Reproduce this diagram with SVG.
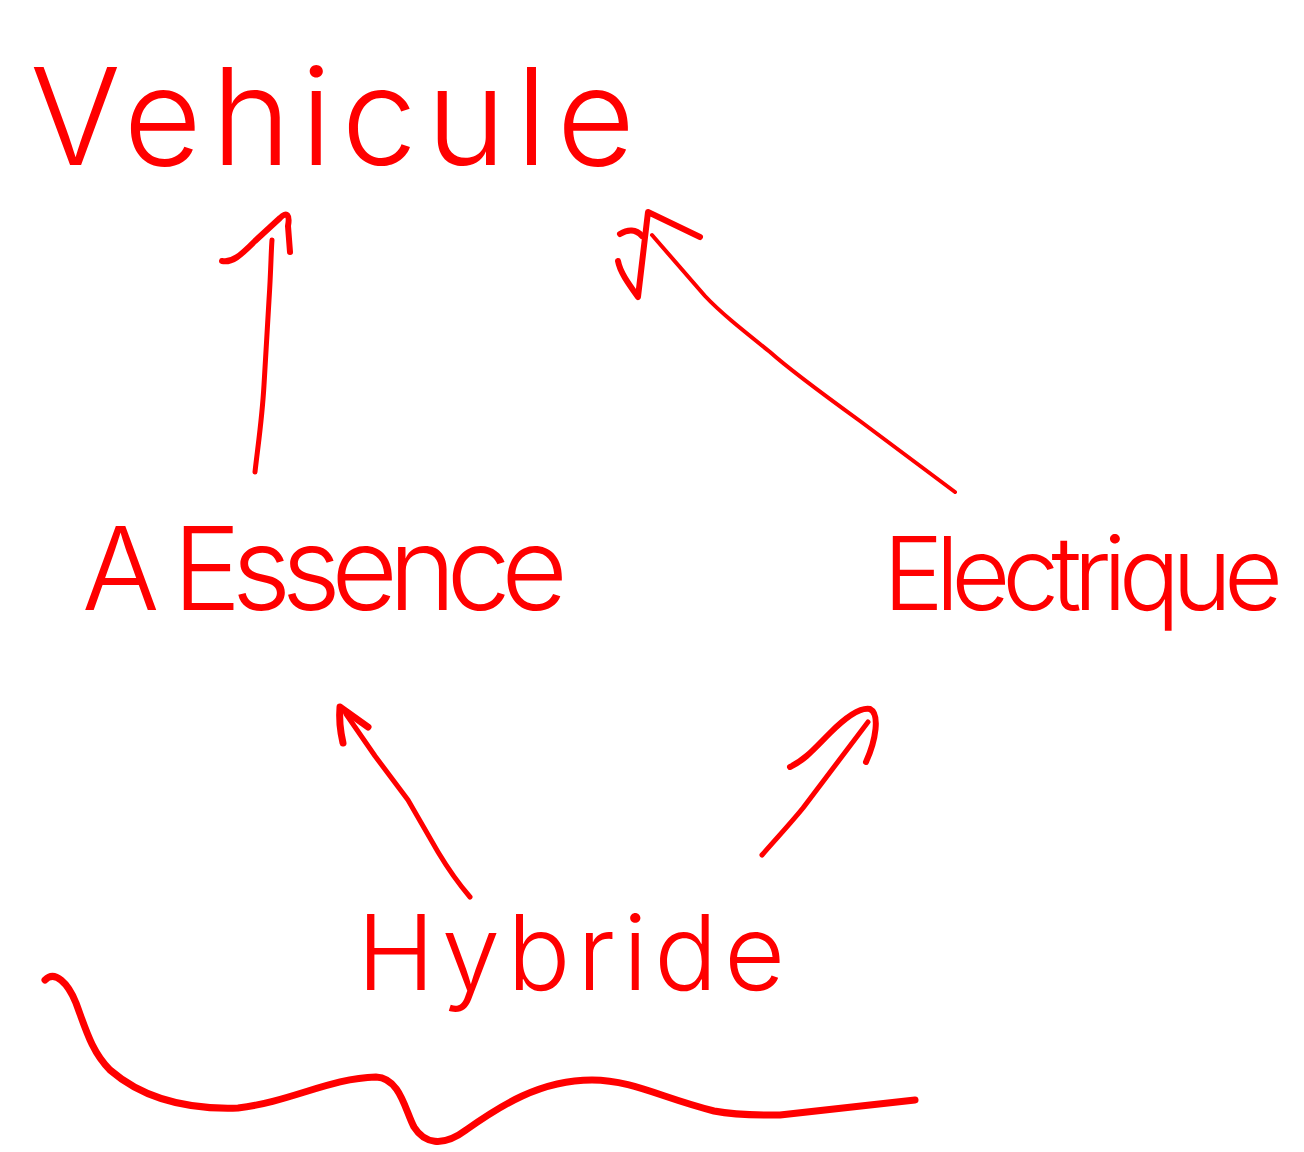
<svg xmlns="http://www.w3.org/2000/svg" width="1304" height="1152" viewBox="0 0 1304 1152">
  <style>
    .label { font-family: Inter, "Open Sans", "Liberation Sans", sans-serif; font-weight: 300; fill: #ff0000; }
    .ink { fill: none; stroke: #ff0000; stroke-linecap: round; stroke-linejoin: round; }
  </style>
  <rect width="1304" height="1152" fill="#ffffff"/>

  <g id="vehicule">
    <text class="label" x="30" y="165" font-size="135" textLength="605" lengthAdjust="spacing">Vehicule</text>
  </g>

  <g id="essence">
    <text class="label" x="82" y="610" font-size="115" textLength="486" lengthAdjust="spacing">A Essence</text>
  </g>

  <g id="electrique">
    <text class="label" x="883" y="610" font-size="102" textLength="400" lengthAdjust="spacing">Electrique</text>
  </g>

  <g id="hybride">
    <text class="label" x="357" y="990" font-size="105" textLength="428" lengthAdjust="spacing">Hybride</text>
  </g>

  <g id="connectors">
    <!-- Essence to Vehicule -->
    <path class="ink" stroke-width="5" d="M255,472 C258,445 262,420 264,385 L269,300 C271,270 271,252 272,240"/>
    <path class="ink" stroke-width="6" d="M222,261 C232,263 240,256 255,241 L280,218 C287,211 290,215 288,226 L290,252"/>

    <!-- Electrique to Vehicule -->
    <path class="ink" stroke-width="4" d="M955,492 L860,421 C820,392 790,370 770,352 C740,328 720,312 705,296 L652,235"/>
    <path class="ink" stroke-width="6" d="M618,261 C620,272 628,283 638,297 L648,212 L700,237"/>
    <path class="ink" stroke-width="6" d="M620,234 C628,229 636,229 642,236"/>

    <!-- Hybride to Essence -->
    <path class="ink" stroke-width="5" d="M470,897 C458,883 447,867 438,852 L408,800 L375,756 L346,714"/>
    <path class="ink" stroke-width="7" d="M343,743 C340,730 339,718 340,707 L368,727"/>

    <!-- Hybride to Electrique -->
    <path class="ink" stroke-width="5" d="M762,855 C775,840 790,824 803,808 L868,722"/>
    <path class="ink" stroke-width="6" d="M790,767 C805,760 815,748 830,733 C845,718 860,707 870,709 C880,714 876,740 866,762"/>
  </g>

  <!-- wavy underline stroke -->
  <path class="ink" stroke-width="7" d="M45,980 C55,970 68,983 76,1003 C86,1030 92,1052 110,1070 C140,1096 180,1110 238,1108 C290,1102 330,1078 376,1077 C400,1078 405,1110 414,1127 C424,1143 442,1148 466,1130 C500,1106 540,1080 592,1080 C632,1080 662,1098 714,1111 C740,1116 772,1115 780,1115 L915,1100"/>
</svg>
